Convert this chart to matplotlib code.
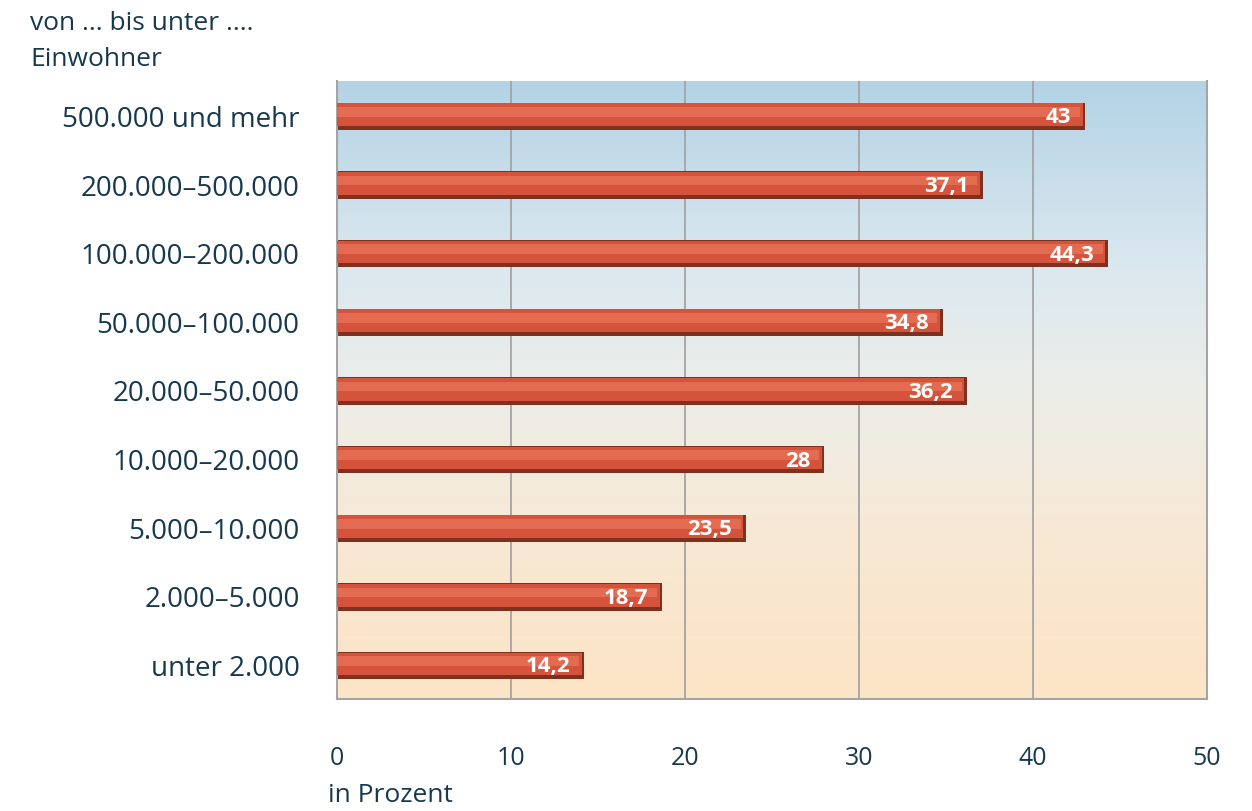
import numpy as np
import matplotlib
matplotlib.use("Agg")
import matplotlib.pyplot as plt
from matplotlib.colors import LinearSegmentedColormap

categories = ["500.000 und mehr", "200.000–500.000", "100.000–200.000",
              "50.000–100.000", "20.000–50.000", "10.000–20.000",
              "5.000–10.000", "2.000–5.000", "unter 2.000"]
values = [43, 37.1, 44.3, 34.8, 36.2, 28, 23.5, 18.7, 14.2]
value_labels = ["43", "37,1", "44,3", "34,8", "36,2", "28", "23,5", "18,7", "14,2"]
xticks = [0, 10, 20, 30, 40, 50]

plt.rcParams['font.family'] = ['Open Sans', 'DejaVu Sans']
text_col = '#17394f'

fig = plt.figure(figsize=(12.52, 8.12), dpi=100)
ax = fig.add_axes([0.2692, 0.138, 0.6949, 0.761])

ax.set_xlim(0, 50)
ax.set_ylim(8.5, -0.5)

# gradient background
cmap = LinearSegmentedColormap.from_list('bg', [
    (0.0, '#b3d3e5'), (0.3, '#dbe8ef'), (0.5, '#eceee9'),
    (0.75, '#f8e8d3'), (1.0, '#fde4c6')])
grad = np.linspace(0, 1, 256).reshape(-1, 1)
ax.imshow(grad, cmap=cmap, aspect='auto', extent=[0, 50, 8.5, -0.5],
          zorder=0, interpolation='bicubic')

# grid
for x in xticks[1:-1]:
    ax.axvline(x, color='#a4a4a4', lw=1.3, zorder=1)

y = np.arange(len(categories))
# shadow / dark edge
ax.barh(y + 0.015, values, height=0.40, color='#80301f', zorder=2)
# main bar
ax.barh(y - 0.01, values - np.full(len(values), 0.15), height=0.33,
        color='#d6533b', zorder=3)
# soft highlight
ax.barh(y - 0.05, values - np.full(len(values), 0.3), height=0.14,
        color='#ef7f66', zorder=4, alpha=0.55)

for yi, v, lab in zip(y, values, value_labels):
    ax.text(v - 0.8, yi + 0.02, lab, ha='right', va='center', color='white',
            fontsize=16, fontweight='bold', zorder=5)

ax.set_yticks(y)
ax.set_yticklabels(categories, fontsize=20, color=text_col)
ax.set_xticks(xticks)
ax.set_xticklabels([str(t) for t in xticks], fontsize=18, color=text_col)
ax.tick_params(axis='y', length=0, pad=27)
ax.tick_params(axis='x', length=0, pad=33)

for s in ['left', 'bottom', 'right']:
    ax.spines[s].set_color('#a4a4a4')
    ax.spines[s].set_linewidth(1.5)
ax.spines['top'].set_visible(False)

fig.text(30/1252, 1 - 24/812, "von ... bis unter ....", fontsize=19,
         color=text_col, va='center', ha='left')
fig.text(30/1252, 1 - 60/812, "Einwohner", fontsize=19,
         color=text_col, va='center', ha='left')
fig.text(328/1252, 1 - 796/812, "in Prozent", fontsize=19,
         color=text_col, va='center', ha='left')

fig.savefig('out.png', dpi=100, facecolor='white')
